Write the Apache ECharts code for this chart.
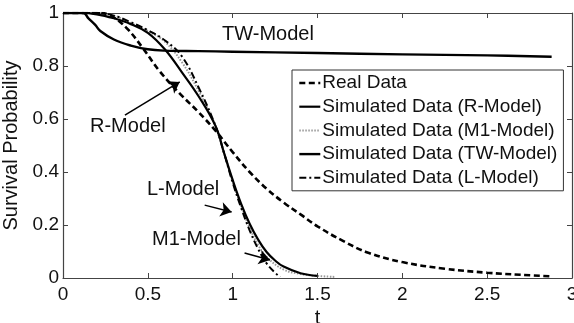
<!DOCTYPE html>
<html>
<head>
<meta charset="utf-8">
<script src="https://cdn.jsdelivr.net/npm/echarts@6/dist/echarts.min.js"></script>
<style>html,body{margin:0;padding:0;background:#fff}#c{width:574px;height:323px}</style>
</head>
<body>
<div id="c"></div>
<script>
// ---- data ----
var xTicks = [0, 0.5, 1, 1.5, 2, 2.5, 3];
var yTicks = [0, 0.2, 0.4, 0.6, 0.8, 1];

var realT = [0, 0.2, 0.28, 0.375, 0.47, 0.57, 0.69, 0.8, 0.9, 1.0, 1.1, 1.2, 1.3, 1.4, 1.5, 1.65, 1.8, 2.0, 2.25, 2.5, 2.7, 2.88];
var realP = [1, 1, 0.99, 0.943, 0.868, 0.78, 0.695, 0.625, 0.555, 0.475, 0.4, 0.337, 0.285, 0.24, 0.195, 0.14, 0.095, 0.06, 0.035, 0.02, 0.012, 0.006];

var rT = [0, 0.1, 0.2, 0.3, 0.4, 0.5, 0.6, 0.7, 0.8, 0.9, 0.95, 1.0, 1.05, 1.1, 1.15, 1.2, 1.25, 1.3, 1.4, 1.5];
var rP = [1, 1, 0.995, 0.98, 0.958, 0.925, 0.863, 0.777, 0.685, 0.572, 0.47, 0.37, 0.28, 0.205, 0.145, 0.098, 0.066, 0.043, 0.018, 0.008];

var m1T = [0, 0.2, 0.3, 0.4, 0.5, 0.6, 0.7, 0.8, 0.9, 0.95, 1.0, 1.05, 1.1, 1.15, 1.2, 1.3, 1.4, 1.5, 1.6];
var m1P = [1, 1, 0.99, 0.962, 0.932, 0.892, 0.815, 0.705, 0.572, 0.47, 0.365, 0.272, 0.19, 0.125, 0.08, 0.032, 0.015, 0.008, 0.004];

var twT = [0, 0.12, 0.15, 0.19, 0.22, 0.3, 0.4, 0.5, 0.6, 0.8, 1.0, 1.5, 2.0, 2.5, 2.88];
var twP = [1, 1, 0.98, 0.955, 0.932, 0.9, 0.877, 0.863, 0.858, 0.856, 0.854, 0.849, 0.844, 0.84, 0.835];

var lT = [0, 0.2, 0.3, 0.4, 0.5, 0.6, 0.7, 0.8, 0.9, 0.95, 1.0, 1.05, 1.1, 1.15, 1.2, 1.25, 1.28];
var lP = [1, 1, 0.99, 0.965, 0.935, 0.897, 0.837, 0.718, 0.572, 0.47, 0.36, 0.265, 0.18, 0.11, 0.055, 0.02, 0.004];

var seriesNames = ['Real Data', 'Simulated Data (R-Model)', 'Simulated Data (M1-Model)', 'Simulated Data (TW-Model)', 'Simulated Data (L-Model)'];

// annotation arrows (data coords): [from, to]
var arrowR = [[0.365, 0.615], [0.688, 0.74]];
var arrowL = [[0.835, 0.275], [0.994, 0.249]];
var arrowM1 = [[1.07, 0.094], [1.22, 0.068]];

function zip(a, b) { return a.map(function (v, i) { return [v, b[i]]; }); }

var FONT = 'Liberation Sans, Arial, sans-serif';
var chart = echarts.init(document.getElementById('c'), null, {renderer: 'canvas'});

function mkLine(name, t, p, style, z) {
  return {
    name: name, type: 'line', data: zip(t, p), symbol: 'none', smooth: 0.4,
    color: style.color, itemStyle: {color: style.color},
    lineStyle: style, z: z || 2, animation: false, silent: true
  };
}

var arrowStyle = {color: '#000', width: 1.5, type: 'solid'};
function arrowData(a) { return [{coord: a[0], symbol: 'none'}, {coord: a[1], symbol: 'arrow'}]; }

var axisCommon = {
  axisLine: {show: true, onZero: false, lineStyle: {color: '#444', width: 1.2}},
  axisTick: {show: true, inside: true, length: 5, lineStyle: {color: '#444'}},
  splitLine: {show: false}
};

var option = {
  backgroundColor: '#fff',
  animation: false,
  grid: {left: 63, right: 2, top: 13, bottom: 45, show: false, containLabel: false, outerBoundsMode: 'none'},
  xAxis: [Object.assign({
    type: 'value', min: 0, max: 3, interval: 0.5, position: 'bottom',
    name: 't', nameLocation: 'middle', nameGap: 22,
    nameTextStyle: {fontFamily: FONT, fontSize: 20, color: '#111'},
    axisLabel: {fontFamily: FONT, fontSize: 19, color: '#111', margin: 7, hideOverlap: false, showMinLabel: true, showMaxLabel: true}
  }, axisCommon), Object.assign({
    type: 'value', min: 0, max: 3, interval: 0.5, position: 'top',
    axisLabel: {show: false}
  }, axisCommon)],
  yAxis: [Object.assign({
    type: 'value', min: 0, max: 1, interval: 0.2, position: 'left',
    name: 'Survival Probability', nameLocation: 'middle', nameGap: 36,
    nameTextStyle: {fontFamily: FONT, fontSize: 20, color: '#111'},
    axisLabel: {fontFamily: FONT, fontSize: 19, color: '#111', margin: 4, showMinLabel: true, showMaxLabel: true}
  }, axisCommon), Object.assign({
    type: 'value', min: 0, max: 1, interval: 0.2, position: 'right',
    axisLabel: {show: false}
  }, axisCommon)],
  legend: {
    orient: 'vertical', left: 292, top: 70,
    data: seriesNames,
    itemWidth: 21, itemHeight: 20, itemGap: 3.7,
    padding: [3, 6, 3, 6],
    borderColor: '#333', borderWidth: 1, backgroundColor: '#fff',
    textStyle: {fontFamily: FONT, fontSize: 19, color: '#111', lineHeight: 20, padding: [0, 0, 0, -3]},
    itemStyle: {opacity: 0},
    lineStyle: {width: 'inherit', opacity: 1},
    selectedMode: false
  },
  series: [
    mkLine(seriesNames[0], realT, realP, {color: '#000', width: 2.6, type: [6, 3.5]}, 3),
    mkLine(seriesNames[1], rT, rP, {color: '#000', width: 2.2, type: 'solid'}, 4),
    mkLine(seriesNames[2], m1T, m1P, {color: '#999', width: 2, type: [1.5, 1.5]}, 2),
    mkLine(seriesNames[3], twT, twP, {color: '#000', width: 2.4, type: 'solid'}, 4),
    mkLine(seriesNames[4], lT, lP, {color: '#000', width: 2, type: [7, 3, 2, 3]}, 3),
    {
      type: 'line', data: [], silent: true, animation: false,
      markLine: {
        silent: true, animation: false, symbolSize: 11,
        label: {show: false},
        lineStyle: arrowStyle,
        data: [arrowData(arrowR), arrowData(arrowL), arrowData(arrowM1)]
      }
    }
  ],
  graphic: [
    {type: 'text', left: 222, top: 24, style: {text: 'TW-Model', font: '20px ' + FONT, fill: '#111'}},
    {type: 'text', left: 90, top: 116, style: {text: 'R-Model', font: '20px ' + FONT, fill: '#111'}},
    {type: 'text', left: 147, top: 179, style: {text: 'L-Model', font: '20px ' + FONT, fill: '#111'}},
    {type: 'text', left: 152, top: 229, style: {text: 'M1-Model', font: '20px ' + FONT, fill: '#111'}}
  ]
};
chart.setOption(option);
</script>
</body>
</html>
